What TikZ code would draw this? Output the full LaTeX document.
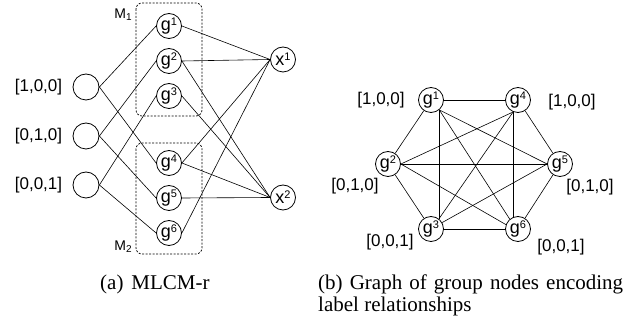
\documentclass[tikz,border=0pt]{standalone}
\usepackage{fontspec}
\setmainfont{Liberation Sans}
\newfontfamily\capfont{Liberation Serif}
\newcommand\mysup[1]{\raisebox{5pt}{\fontsize{11}{11}\selectfont #1}}
\newcommand\mysub[1]{\raisebox{-2pt}{\fontsize{10}{10}\selectfont #1}}
\begin{document}
\begin{tikzpicture}[x=1pt,y=-1pt,
  gnode/.style={circle,draw,line width=0.8pt,minimum size=25pt,inner sep=0pt,font=\fontsize{18}{18}\selectfont},
  innode/.style={circle,draw,line width=0.8pt,minimum size=26pt,inner sep=0pt},
  vec/.style={font=\fontsize{17}{17}\selectfont,inner sep=0pt},
  mlab/.style={font=\fontsize{14}{14}\selectfont,inner sep=0pt},
  conn/.style={line width=0.6pt},
  grp/.style={draw,line width=0.7pt,dash pattern=on 2pt off 1.5pt,rounded corners=6pt},
  captext/.style={font=\capfont\fontsize{21}{21.5}\selectfont,inner sep=0pt,anchor=base west}]
\useasboundingbox (0,0) rectangle (641,323);
% ---------- left panel ----------
\draw[grp] (136,3) rectangle (202,116);
\draw[grp] (136,143) rectangle (202,254);
\node[mlab] (m1) at (123,15) {M\mysub{1}};
\node[mlab] (m2) at (123,247) {M\mysub{2}};
\node[innode] (i1) at (86,87) {};
\node[innode] (i2) at (86,136) {};
\node[innode] (i3) at (86,185) {};
\node[vec] (l1) at (38.5,87) {[1,0,0]};
\node[vec] (l2) at (38.5,136) {[0,1,0]};
\node[vec] (l3) at (38.5,185) {[0,0,1]};
\node[gnode] (a1) at (169,26) {g\mysup{1}};
\node[gnode] (a2) at (169,61) {g\mysup{2}};
\node[gnode] (a3) at (169,96) {g\mysup{3}};
\node[gnode] (a4) at (169,163) {g\mysup{4}};
\node[gnode] (a5) at (169,198) {g\mysup{5}};
\node[gnode] (a6) at (169,233) {g\mysup{6}};
\node[gnode] (x1) at (283,59.5) {x\mysup{1}};
\node[gnode] (x2) at (283,197.5) {x\mysup{2}};
\draw[conn] (i1.east) -- (a1.west);
\draw[conn] (i1.east) -- (a4.west);
\draw[conn] (i2.east) -- (a2.west);
\draw[conn] (i2.east) -- (a5.west);
\draw[conn] (i3.east) -- (a3.west);
\draw[conn] (i3.east) -- (a6.west);
\draw[conn] (a1.east) -- (x1.west);
\draw[conn] (a2.east) -- (x1.west);
\draw[conn] (a4.east) -- (x1.west);
\draw[conn] (a6.east) -- (x1.west);
\draw[conn] (a2.east) -- (x2.west);
\draw[conn] (a3.east) -- (x2.west);
\draw[conn] (a4.east) -- (x2.west);
\draw[conn] (a5.east) -- (x2.west);
% ---------- right panel ----------
\node[gnode] (b1) at (431,100) {g\mysup{1}};
\node[gnode] (b4) at (518,100) {g\mysup{4}};
\node[gnode] (b2) at (388,164) {g\mysup{2}};
\node[gnode] (b5) at (560,164) {g\mysup{5}};
\node[gnode] (b3) at (431,229) {g\mysup{3}};
\node[gnode] (b6) at (518,229) {g\mysup{6}};
\node[vec] (r1) at (381,100) {[1,0,0]};
\node[vec] (r4) at (572,102) {[1,0,0]};
\node[vec] (r2) at (355,186) {[0,1,0]};
\node[vec] (r5) at (590,187) {[0,1,0]};
\node[vec] (r3) at (390,242) {[0,0,1]};
\node[vec] (r6) at (561,247) {[0,0,1]};
\draw[conn] (b1) -- (b2);
\draw[conn] (b1.east) -- (b4.west);
\draw[conn] (b1.-50) -- (b3.50);
\draw[conn] (b1.-50) -- (b5.west);
\draw[conn] (b1.-50) -- (b6.130);
\draw[conn] (b4.-112) -- (b2.east);
\draw[conn] (b4.-112) -- (b3.52);
\draw[conn] (b4.-112) -- (b6.112);
\draw[conn] (b4) -- (b5);
\draw[conn] (b2.east) -- (b5.west);
\draw[conn] (b2) -- (b3);
\draw[conn] (b2.east) -- (b6.160);
\draw[conn] (b3.30) -- (b5.west);
\draw[conn] (b3.east) -- (b6.west);
\draw[conn] (b5) -- (b6);
% ---------- captions ----------
\node[captext] (ca) at (100,289.5) {(a)\hspace{8pt}MLCM-r};
\node[captext,text width=305pt,align=justify] (cb) at (318,290) {(b) Graph of group nodes encoding label relationships};
\end{tikzpicture}
\end{document}
